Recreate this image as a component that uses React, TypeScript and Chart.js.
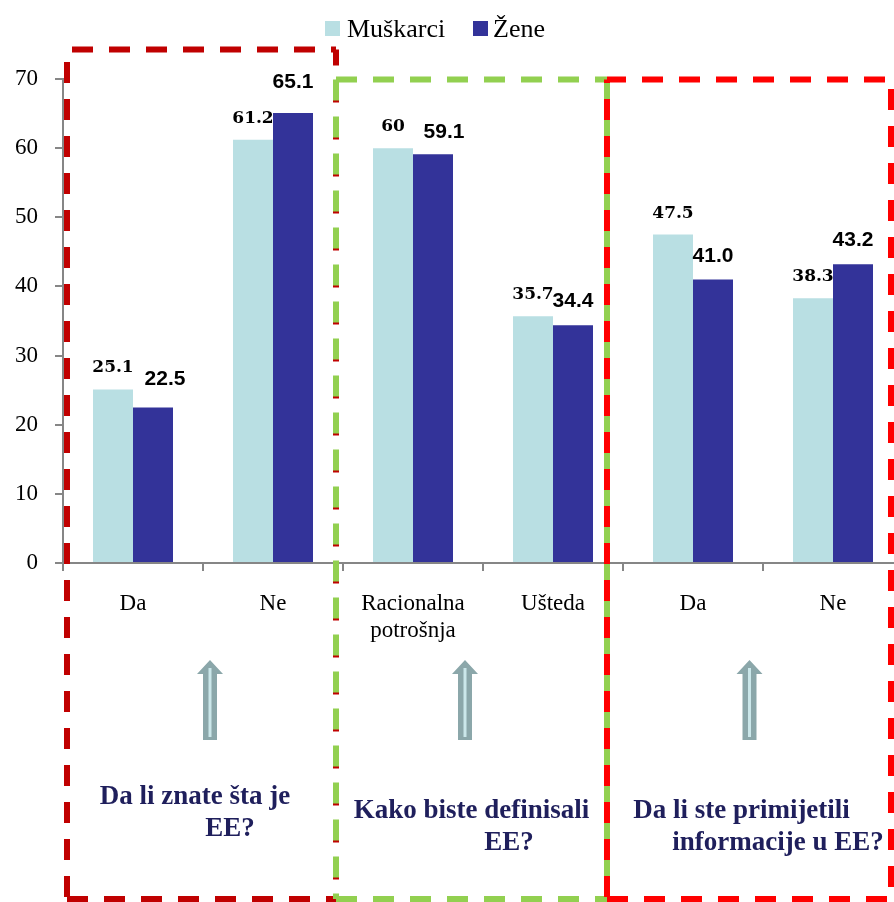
import React, { useEffect, useRef } from "react";
import { Chart, registerables } from "chart.js";

Chart.register(...registerables);

const categories: (string | string[])[] = ["Da", "Ne", ["Racionalna", "potrošnja"], "Ušteda", "Da", "Ne"];
const muskarci = [25.1, 61.2, 60, 35.7, 47.5, 38.3];
const zene = [22.5, 65.1, 59.1, 34.4, 41.0, 43.2];
const muskarciLabels = ["25.1", "61.2", "60", "35.7", "47.5", "38.3"];
const zeneLabels = ["22.5", "65.1", "59.1", "34.4", "41.0", "43.2"];
const seriesNames = ["Muškarci", "Žene"];
const questions = [
  ["Da li znate šta je", "EE?"],
  ["Kako biste definisali", "EE?"],
  ["Da li ste primijetili", "informacije u EE?"],
];
const yTicks = [0, 10, 20, 30, 40, 50, 60, 70];

const LIGHT = "#B9DFE3";
const DARK = "#333399";
const AXIS = "#868686";
const NAVY = "#1F1F5C";

const overlayPlugin = {
  id: "overlay",
  afterDatasetsDraw(chart: any) {
    const ctx = chart.ctx;
    ctx.save();
    const m0 = chart.getDatasetMeta(0);
    const m1 = chart.getDatasetMeta(1);
    const darkDx = [12, 0, 11, 0, 0, 0];
    const darkGap = [22, 25, 16, 18, 18, 18];
    ctx.fillStyle = "#000";
    ctx.textBaseline = "alphabetic";
    ctx.textAlign = "center";
    m0.data.forEach((bar: any, i: number) => {
      ctx.font = 'bold 17px "DejaVu Serif"';
      ctx.fillText(muskarciLabels[i], bar.x, bar.y - 17);
    });
    m1.data.forEach((bar: any, i: number) => {
      ctx.font = 'bold 21px "Liberation Sans"';
      ctx.fillText(zeneLabels[i], bar.x + darkDx[i], bar.y - darkGap[i]);
    });
    ctx.restore();
  },
  afterDraw(chart: any) {
    const ctx = chart.ctx;
    ctx.save();
    // legend
    ctx.fillStyle = LIGHT;
    ctx.fillRect(325, 21, 15, 15);
    ctx.fillStyle = DARK;
    ctx.fillRect(473, 21, 15, 15);
    ctx.fillStyle = "#000";
    ctx.font = '26px "Liberation Serif"';
    ctx.textAlign = "left";
    ctx.textBaseline = "alphabetic";
    ctx.fillText(seriesNames[0], 347, 37);
    ctx.fillText(seriesNames[1], 493, 37);

    // arrows
    const arrowX = [210, 465, 749.5];
    arrowX.forEach((cx) => {
      ctx.beginPath();
      ctx.moveTo(cx, 660);
      ctx.lineTo(cx + 13, 674);
      ctx.lineTo(cx + 7, 674);
      ctx.lineTo(cx + 7, 740);
      ctx.lineTo(cx - 7, 740);
      ctx.lineTo(cx - 7, 674);
      ctx.lineTo(cx - 13, 674);
      ctx.closePath();
      ctx.fillStyle = "#8BA7AA";
      ctx.fill();
      ctx.fillStyle = "#CBE7EA";
      ctx.fillRect(cx - 1.5, 668, 3, 69);
    });

    // questions
    ctx.fillStyle = NAVY;
    ctx.font = 'bold 27px "Liberation Serif"';
    ctx.textAlign = "center";
    const qPos = [
      [[195, 804], [230, 836]],
      [[471.5, 818], [509, 850]],
      [[741.5, 818], [778, 850]],
    ];
    questions.forEach((lines, qi) => {
      lines.forEach((t, li) => {
        ctx.fillText(t, qPos[qi][li][0], qPos[qi][li][1]);
      });
    });

    // dashed boxes
    ctx.lineWidth = 6;
    ctx.lineCap = "butt";
    ctx.setLineDash([21, 16]);
    const seg = (x1: number, y1: number, x2: number, y2: number, color: string, off: number) => {
      ctx.strokeStyle = color;
      ctx.lineDashOffset = off;
      ctx.beginPath();
      ctx.moveTo(x1, y1);
      ctx.lineTo(x2, y2);
      ctx.stroke();
    };
    const box = (x1: number, y1: number, x2: number, y2: number, color: string, offs: number[]) => {
      seg(x1, y1, x2, y1, color, offs[0]);
      seg(x1, y1, x1, y2, color, offs[1]);
      seg(x2, y1, x2, y2, color, offs[2]);
      seg(x1, y2, x2, y2, color, offs[3]);
    };
    box(67, 49.5, 336, 899, "#C00000", [32, 24.5, 5, 0]);
    box(336, 79.5, 607, 899, "#92D050", [0, 0, 0, 0]);
    box(607, 79.5, 891, 899, "#FF0000", [2, 17.5, 27.5, 0]);
    ctx.restore();
  },
};

export default function App() {
  const ref = useRef<HTMLCanvasElement>(null);
  useEffect(() => {
    const canvas = ref.current!;
    const chart = new Chart(canvas, {
      type: "bar",
      data: {
        labels: categories,
        datasets: [
          { label: seriesNames[0], data: muskarci, backgroundColor: LIGHT, borderWidth: 0 },
          { label: seriesNames[1], data: zene, backgroundColor: DARK, borderWidth: 0 },
        ],
      },
      options: {
        responsive: false,
        animation: false,
        devicePixelRatio: 1,
        layout: { padding: { top: 79, left: 0, right: 7, bottom: 0 } },
        datasets: { bar: { barPercentage: 1, categoryPercentage: 80 / 140 } },
        plugins: { legend: { display: false }, tooltip: { enabled: false } },
        scales: {
          x: {
            grid: { drawOnChartArea: false, drawTicks: true, tickLength: 8, color: AXIS, lineWidth: 2, offset: true },
            border: { color: AXIS, width: 2 },
            ticks: { color: "#000", font: { family: "Liberation Serif", size: 23 }, padding: 19, maxRotation: 0, autoSkip: false },
            afterFit: (s: any) => {
              s.height = 339;
            },
          },
          y: {
            min: 0,
            max: 70,
            afterBuildTicks: (s: any) => {
              s.ticks = yTicks.map((v) => ({ value: v }));
            },
            grid: { drawOnChartArea: false, drawTicks: true, tickLength: 8, color: AXIS, lineWidth: 2 },
            border: { color: AXIS, width: 2 },
            ticks: { color: "#000", font: { family: "Liberation Serif", size: 23 }, padding: 17 },
            afterFit: (s: any) => {
              s.width = 63;
            },
          },
        },
      },
      plugins: [overlayPlugin],
    } as any);
    return () => chart.destroy();
  }, []);
  return (
    <div style={{ position: "absolute", left: 0, top: 0, width: 894, height: 902, overflow: "hidden", background: "#fff" }}>
      <canvas ref={ref} width={910} height={902} style={{ display: "block" }} />
    </div>
  );
}
